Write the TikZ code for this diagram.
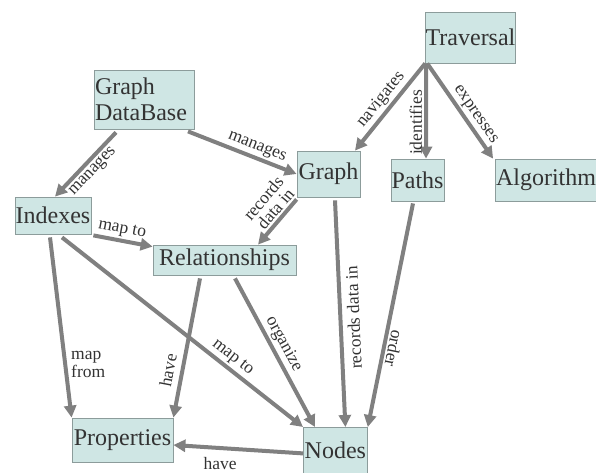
\documentclass[tikz,border=0pt]{standalone}
\usepackage{fontspec}
\setmainfont{Liberation Serif}
\newfontfamily\libserif{Liberation Serif}
\usetikzlibrary{arrows.meta}
\definecolor{boxfill}{HTML}{CFE6E4}
\definecolor{boxline}{HTML}{8C9C9B}
\definecolor{edgecol}{HTML}{808080}
\definecolor{txt}{HTML}{333333}
\tikzset{
  box/.style={draw=boxline, line width=0.8pt, fill=boxfill, text=txt, inner sep=0pt,
    font=\libserif\fontsize{24}{26}\selectfont, anchor=center},
  conn/.style={draw=edgecol, line width=4pt, -{Triangle[length=12pt,width=12pt]}},
  lbl/.style={text=txt, font=\libserif\fontsize{17.5}{17.5}\selectfont, inner sep=2pt}
}
\begin{document}
\begin{tikzpicture}[x=1pt,y=-1pt]
\useasboundingbox (0,0) rectangle (596,472);
\fill[white] (0,0) rectangle (596,472);
% nodes
\node[box, minimum width=100pt, minimum height=59pt, align=left, text width=98pt] (gdb) at (144,99.5) {Graph\\DataBase};
\node[box, minimum width=76pt, minimum height=37pt] (idx) at (53,215.5) {Indexes};
\node[box, minimum width=143pt, minimum height=30pt] (rel) at (224.5,260) {Relationships};
\node[box, minimum width=63pt, minimum height=46pt] (graph) at (328.5,174) {Graph};
\node[box, minimum width=89pt, minimum height=51pt] (trav) at (470.5,37.5) {Traversal};
\node[box, minimum width=53pt, minimum height=42pt] (paths) at (417.5,180) {Paths};
\node[box, minimum width=101pt, minimum height=42pt] (algo) at (546,180) {Algorithm};
\node[box, minimum width=101pt, minimum height=44pt] (props) at (122.5,440) {Properties};
\node[box, minimum width=64pt, minimum height=50pt, anchor=north west] (nodes) at (303,427) {\raisebox{4pt}{Nodes}};
% edges
\draw[conn] ([xshift=-28pt,yshift=-3pt]gdb.south) -- ([xshift=2pt]idx.north)
  node[lbl, pos=0.5, sloped, below] {manages};
\draw[conn] ([xshift=44pt,yshift=-2pt]gdb.south) -- (graph.west)
  node[lbl, pos=0.6, sloped, above] {manages};
\draw[conn] ([yshift=-2pt]graph.south west) -- ([xshift=33.5pt]rel.north)
  node[lbl, pos=0.35, sloped, above, align=center, font=\libserif\fontsize{17.5}{16}\selectfont] {records\\data in};
\draw[conn] ([xshift=2pt,yshift=-1pt]idx.south east) -- ([yshift=-2pt]rel.north west)
  node[lbl, pos=0.45, sloped, above] {map to};
\draw[conn] ([xshift=-3pt,yshift=-3pt]idx.south) -- (props.north west);
\node[lbl, anchor=west, align=left, font=\libserif\fontsize{17.5}{18}\selectfont] (mapfrom) at (69,364) {map\\from};
\draw[conn] ([xshift=9pt,yshift=-3pt]idx.south) -- (nodes.north west)
  node[lbl, pos=0.68, sloped, above] {map to};
\draw[conn] ([xshift=-24.5pt,yshift=-3pt]rel.south) -- (props.north east)
  node[lbl, pos=0.68, sloped, above, yshift=4pt] {have};
\draw[conn] ([xshift=10.5pt,yshift=-3pt]rel.south) -- ([xshift=12pt]nodes.north west)
  node[lbl, pos=0.48, sloped, above] {organize};
\draw[conn] ([xshift=6.5pt,yshift=-3pt]graph.south) -- ([xshift=10pt]nodes.north)
  node[lbl, pos=0.52, rotate=92.5, anchor=north, yshift=-3pt] {records data in};
\draw[conn] ([xshift=-4.5pt,yshift=-2pt]paths.south) -- (nodes.north east)
  node[lbl, pos=0.64, sloped, allow upside down, above] {order};
\draw[conn] ([yshift=-1pt]nodes.west) -- ([yshift=-5pt]props.east)
  node[lbl, pos=0.64, below=5pt] {have};
\draw[conn] (trav.south west) -- ([xshift=26.5pt]graph.north)
  node[lbl, pos=0.5, sloped, above] {navigates};
\draw[conn] ([xshift=1pt]trav.south west) -- ([xshift=8.5pt]paths.north)
  node[lbl, pos=0.62, sloped, above] {identifies};
\draw[conn] ([xshift=2pt]trav.south west) -- ([xshift=-2pt]algo.north west)
  node[lbl, pos=0.6, sloped, above] {expresses};
\end{tikzpicture}
\end{document}
